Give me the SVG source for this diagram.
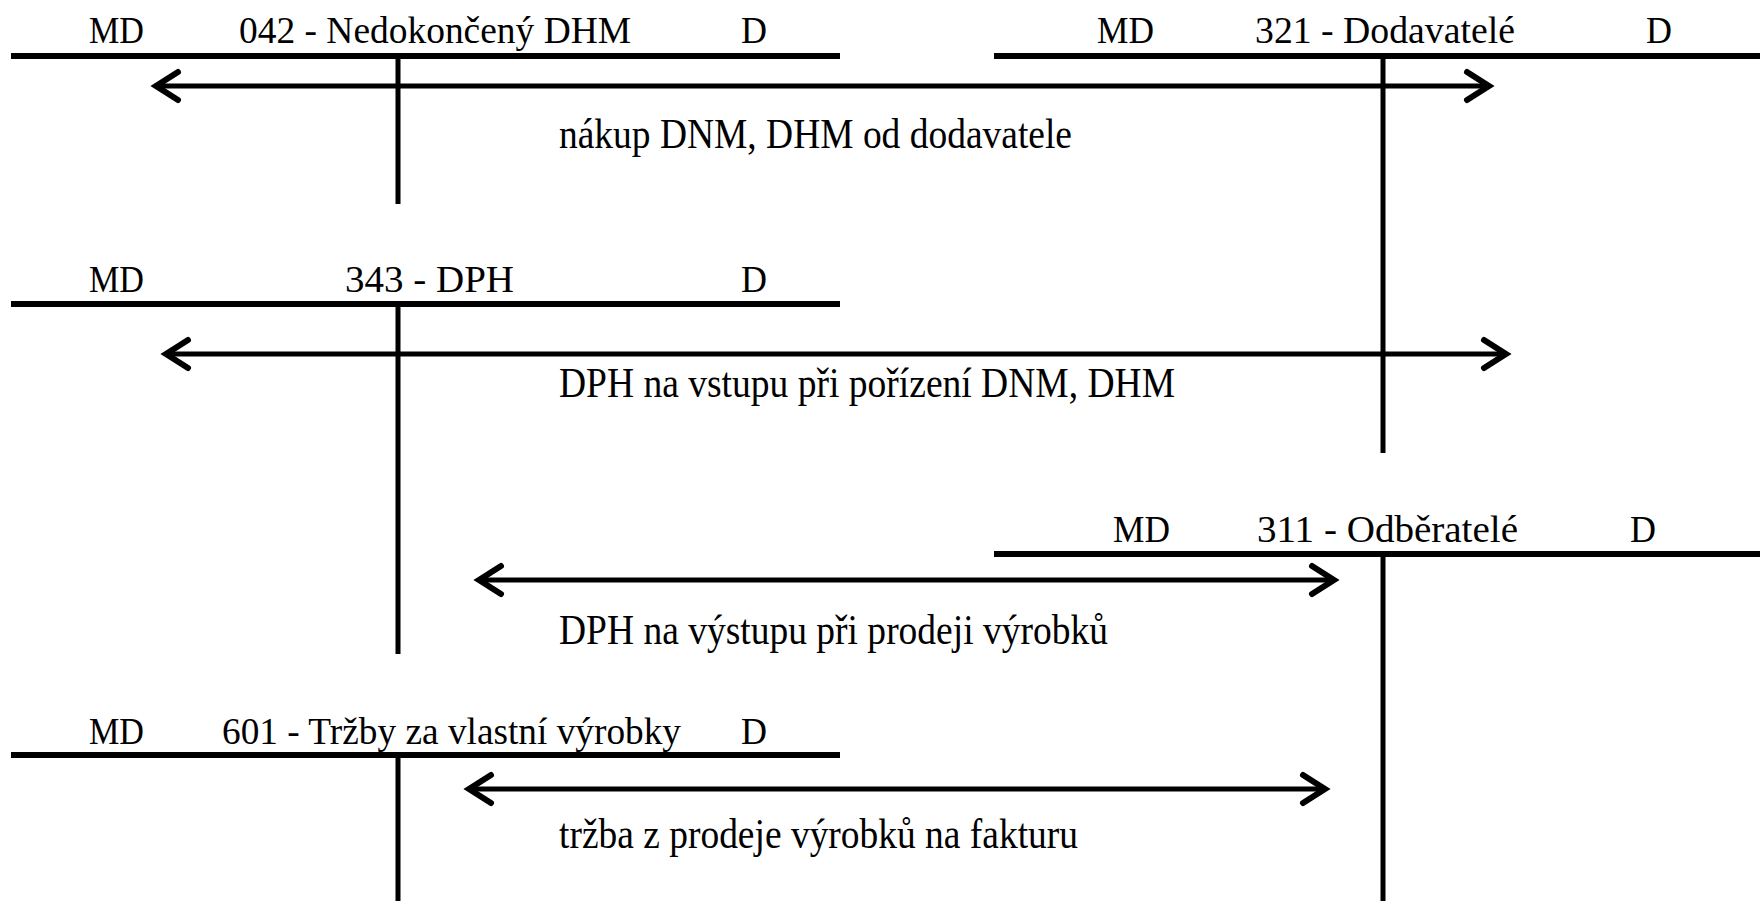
<svg xmlns="http://www.w3.org/2000/svg" width="1760" height="901" viewBox="0 0 1760 901">
  <style>
    .bar { stroke: #000; stroke-width: 6; fill: none; }
    .stem { stroke: #000; stroke-width: 5; fill: none; }
    .flow { stroke: #000; stroke-width: 5; fill: none; marker-start: url(#chev); marker-end: url(#chev); }
    text { font-family: "Liberation Serif", "Times New Roman", serif; font-size: 38px; fill: #000; }
    .note { font-size: 42px; }
  </style>
  <defs>
    <marker id="chev" markerUnits="userSpaceOnUse" markerWidth="44" markerHeight="44" viewBox="-32 -22 44 44" refX="0" refY="0" orient="auto-start-reverse">
      <path d="M -23 -14 L -1 0 L -23 14" fill="none" stroke="#000" stroke-width="6" stroke-linecap="round" stroke-linejoin="miter"/>
    </marker>
  </defs>
  <rect width="1760" height="901" fill="#fff"/>

  <!-- T-account 042 -->
  <g id="acc042">
    <line class="bar" x1="11" y1="56" x2="840" y2="56"/>
    <line class="stem" x1="398" y1="56" x2="398" y2="204"/>
    <text x="89" y="43" textLength="55" lengthAdjust="spacingAndGlyphs">MD</text>
    <text x="239" y="43" textLength="392" lengthAdjust="spacingAndGlyphs">042 - Nedokončený DHM</text>
    <text x="741" y="43" textLength="26" lengthAdjust="spacingAndGlyphs">D</text>
  </g>

  <!-- T-account 321 -->
  <g id="acc321">
    <line class="bar" x1="994" y1="56" x2="1760" y2="56"/>
    <line class="stem" x1="1383" y1="56" x2="1383" y2="453"/>
    <text x="1097" y="43" textLength="57" lengthAdjust="spacingAndGlyphs">MD</text>
    <text x="1255" y="43" textLength="260" lengthAdjust="spacingAndGlyphs">321 - Dodavatelé</text>
    <text x="1646" y="43" textLength="26" lengthAdjust="spacingAndGlyphs">D</text>
  </g>

  <!-- T-account 343 -->
  <g id="acc343">
    <line class="bar" x1="11" y1="304" x2="840" y2="304"/>
    <line class="stem" x1="398" y1="304" x2="398" y2="654"/>
    <text x="89" y="292" textLength="55" lengthAdjust="spacingAndGlyphs">MD</text>
    <text x="345" y="292" textLength="169" lengthAdjust="spacingAndGlyphs">343 - DPH</text>
    <text x="741" y="292" textLength="26" lengthAdjust="spacingAndGlyphs">D</text>
  </g>

  <!-- T-account 311 -->
  <g id="acc311">
    <line class="bar" x1="994" y1="554" x2="1760" y2="554"/>
    <line class="stem" x1="1383" y1="554" x2="1383" y2="901"/>
    <text x="1113" y="542" textLength="57" lengthAdjust="spacingAndGlyphs">MD</text>
    <text x="1257" y="542" textLength="261" lengthAdjust="spacingAndGlyphs">311 - Odběratelé</text>
    <text x="1630" y="542" textLength="26" lengthAdjust="spacingAndGlyphs">D</text>
  </g>

  <!-- T-account 601 -->
  <g id="acc601">
    <line class="bar" x1="11" y1="755" x2="840" y2="755"/>
    <line class="stem" x1="398" y1="755" x2="398" y2="901"/>
    <text x="89" y="744" textLength="55" lengthAdjust="spacingAndGlyphs">MD</text>
    <text x="222" y="744" textLength="459" lengthAdjust="spacingAndGlyphs">601 - Tržby za vlastní výrobky</text>
    <text x="741" y="744" textLength="26" lengthAdjust="spacingAndGlyphs">D</text>
  </g>

  <!-- bookings between accounts -->
  <g id="connectors">
    <line class="flow" x1="155" y1="86" x2="1490" y2="86"/>
    <text class="note" x="559" y="148" textLength="513" lengthAdjust="spacingAndGlyphs">nákup DNM, DHM od dodavatele</text>

    <line class="flow" x1="165" y1="354" x2="1507" y2="354"/>
    <text class="note" x="559" y="397" textLength="616" lengthAdjust="spacingAndGlyphs">DPH na vstupu při pořízení DNM, DHM</text>

    <line class="flow" x1="478" y1="580" x2="1335" y2="580"/>
    <text class="note" x="559" y="644" textLength="549" lengthAdjust="spacingAndGlyphs">DPH na výstupu při prodeji výrobků</text>

    <line class="flow" x1="468" y1="789" x2="1326" y2="789"/>
    <text class="note" x="559" y="848" textLength="519" lengthAdjust="spacingAndGlyphs">tržba z prodeje výrobků na fakturu</text>
  </g>
</svg>
